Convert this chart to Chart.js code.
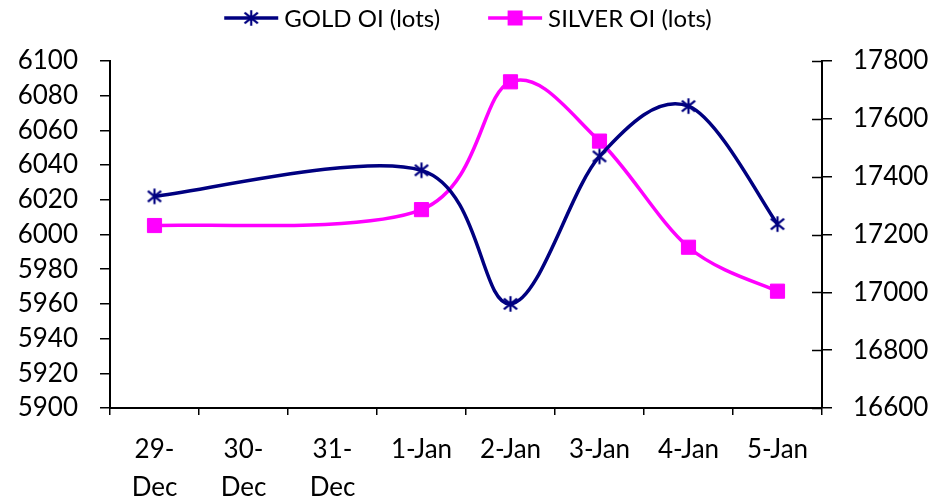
<!DOCTYPE html>
<html>
<head>
<meta charset="utf-8">
<script src="https://cdn.jsdelivr.net/npm/chart.js@4/dist/chart.umd.min.js"></script>
<style>
  html, body { margin: 0; padding: 0; background: #fff; }
  #wrap { width: 936px; height: 502px; }
</style>
</head>
<body>
<div id="wrap"><canvas id="c" width="936" height="502"></canvas></div>
<script>
// Trading days (30-Dec and 31-Dec carry no readings)
const categories = [['29-', 'Dec'], ['30-', 'Dec'], ['31-', 'Dec'], '1-Jan', '2-Jan', '3-Jan', '4-Jan', '5-Jan'];
const goldOI   = [6022, null, null, 6037, 5960, 6045, 6074, 6006];
const silverOI = [17231, null, null, 17286, 17728, 17523, 17156, 17004];
const goldTicks   = [5900, 6100, 20];
const silverTicks = [16600, 17800, 200];

const NAVY = '#000080';
const MAGENTA = '#FF00FF';
const FONT = 'Lato';

// Asterisk marker: an X crossed by a vertical stroke
function makeStar(size, color) {
  const cv = document.createElement('canvas');
  cv.width = size; cv.height = size;
  const g = cv.getContext('2d');
  g.strokeStyle = color;
  g.lineWidth = 2.2;
  const m = size / 2, r = size / 2 - 1.2;
  g.beginPath();
  g.moveTo(m, m - r); g.lineTo(m, m + r);
  g.moveTo(m - r * 0.85, m - r * 0.7); g.lineTo(m + r * 0.85, m + r * 0.7);
  g.moveTo(m - r * 0.85, m + r * 0.7); g.lineTo(m + r * 0.85, m - r * 0.7);
  g.stroke();
  return cv;
}
const star = makeStar(18, NAVY);

// Uniform Catmull-Rom smoothing (neighbour difference / 6) over the drawn points
const smoothCurve = {
  id: 'smoothCurve',
  beforeDatasetDraw(chart, args) {
    const line = args.meta.dataset;
    if (!line) return;
    const pts = args.meta.data.filter(p => !p.skip);
    const n = pts.length;
    for (let i = 0; i < n; i++) {
      const p = pts[i];
      const prev = pts[Math.max(i - 1, 0)];
      const next = pts[Math.min(i + 1, n - 1)];
      const dx = (next.x - prev.x) / 6, dy = (next.y - prev.y) / 6;
      p.cp1x = p.x - dx; p.cp1y = p.y - dy;
      p.cp2x = p.x + dx; p.cp2y = p.y + dy;
    }
    line._pointsUpdated = true;
  }
};

// Legend row: line sample with marker, followed by the series name
const topLegend = {
  id: 'topLegend',
  afterDraw(chart) {
    const ctx = chart.ctx;
    ctx.save();
    ctx.font = '24px ' + FONT;
    ctx.textBaseline = 'middle';
    const sample = 54, gap = 6, between = 48, y = 18;
    const items = chart.data.datasets.map(ds => ({ ds, w: ctx.measureText(ds.label).width }));
    const total = items.reduce((s, it) => s + sample + gap + it.w, 0) + between * (items.length - 1);
    let x = (chart.width - total) / 2;
    items.forEach(({ ds, w }) => {
      ctx.strokeStyle = ds.borderColor;
      ctx.lineWidth = 3.5;
      ctx.beginPath();
      ctx.moveTo(x, y); ctx.lineTo(x + sample, y);
      ctx.stroke();
      const cx = x + sample / 2;
      if (ds.pointStyle === 'rect') {
        ctx.fillStyle = ds.borderColor;
        ctx.fillRect(cx - 7.5, y - 7.5, 15, 15);
      } else {
        ctx.drawImage(ds.pointStyle, cx - ds.pointStyle.width / 2, y - ds.pointStyle.height / 2);
      }
      ctx.fillStyle = '#000';
      ctx.fillText(ds.label, x + sample + gap, y + 1);
      x += sample + gap + w + between;
    });
    ctx.restore();
  }
};

// Right-hand axis tick marks cross the axis line
const crossTicks = {
  id: 'crossTicks',
  afterDraw(chart) {
    const s = chart.scales.y2;
    const ctx = chart.ctx;
    ctx.save();
    ctx.strokeStyle = '#000';
    ctx.lineWidth = 1.5;
    ctx.beginPath();
    s.ticks.forEach(t => {
      const py = Math.round(s.getPixelForValue(t.value)) + 0.5;
      ctx.moveTo(s.left - 10, py); ctx.lineTo(s.left, py);
    });
    ctx.stroke();
    ctx.restore();
  }
};

const plain = v => String(v);

new Chart(document.getElementById('c'), {
  type: 'line',
  data: {
    labels: categories,
    datasets: [
      {
        label: 'GOLD OI (lots)',
        data: goldOI,
        yAxisID: 'y',
        borderColor: NAVY,
        backgroundColor: NAVY,
        borderWidth: 3.5,
        pointStyle: star,
        tension: 0.4,
        spanGaps: true,
        fill: false
      },
      {
        label: 'SILVER OI (lots)',
        data: silverOI,
        yAxisID: 'y2',
        borderColor: MAGENTA,
        backgroundColor: MAGENTA,
        borderWidth: 3.5,
        pointStyle: 'rect',
        pointRadius: 10,
        pointBorderWidth: 1,
        pointBackgroundColor: MAGENTA,
        pointBorderColor: MAGENTA,
        tension: 0.4,
        spanGaps: true,
        fill: false
      }
    ]
  },
  options: {
    responsive: false,
    animation: false,
    events: [],
    layout: { padding: { top: 61, left: 0, right: 0, bottom: 0 } },
    plugins: {
      legend: { display: false },
      tooltip: { enabled: false }
    },
    scales: {
      x: {
        offset: true,
        grid: { display: true, drawOnChartArea: false, offset: true, tickLength: 7, color: '#000', lineWidth: 1.5 },
        border: { display: true, color: '#000', width: 2 },
        ticks: { color: '#000', font: { family: FONT, size: 26, lineHeight: 1.45 }, padding: 16, maxRotation: 0, autoSkip: false },
        afterFit(s) { s.height = 94; }
      },
      y: {
        position: 'left',
        min: goldTicks[0], max: goldTicks[1],
        grid: { display: true, drawOnChartArea: false, tickLength: 10, color: '#000', lineWidth: 1.5 },
        border: { display: true, color: '#000', width: 2 },
        ticks: { stepSize: goldTicks[2], autoSkip: false, callback: plain, color: '#000', font: { family: FONT, size: 26, lineHeight: 1 }, padding: 22 },
        afterFit(s) { s.width = 110; }
      },
      y2: {
        position: 'right',
        min: silverTicks[0], max: silverTicks[1],
        grid: { display: true, drawOnChartArea: false, tickLength: 10, color: '#000', lineWidth: 1.5 },
        border: { display: true, color: '#000', width: 2 },
        ticks: { stepSize: silverTicks[2], autoSkip: false, callback: plain, color: '#000', font: { family: FONT, size: 26, lineHeight: 1 }, padding: 21 },
        afterFit(s) { s.width = 114; }
      }
    }
  },
  plugins: [smoothCurve, topLegend, crossTicks]
});
</script>
</body>
</html>
